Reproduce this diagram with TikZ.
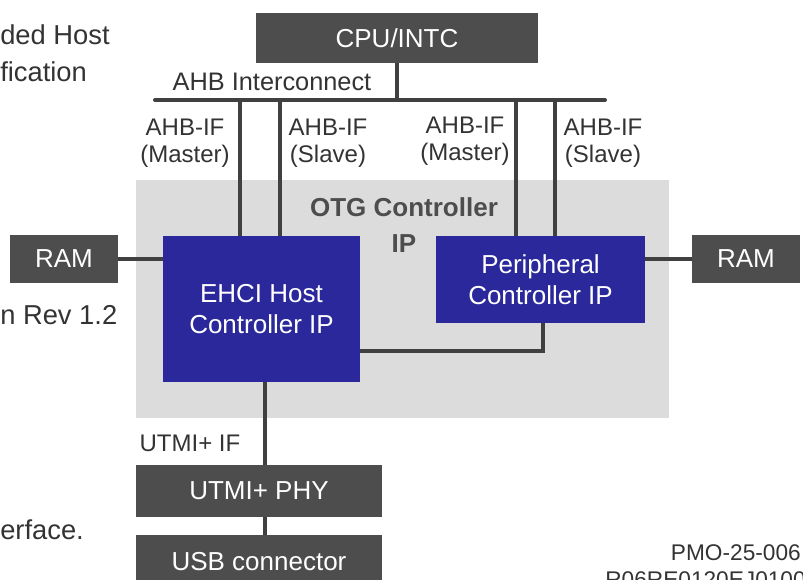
\documentclass[tikz,border=0pt]{standalone}
\usepackage{fontspec}
\setmainfont{Liberation Sans}
\usepackage{tikz}

\definecolor{boxgray}{RGB}{77,77,77}
\definecolor{linegray}{RGB}{64,64,64}
\definecolor{otggray}{RGB}{220,220,220}
\definecolor{ipblue}{RGB}{42,40,154}
\definecolor{textgray}{RGB}{51,51,51}

\begin{document}
\begin{tikzpicture}[x=0.75pt, y=-0.75pt,
    graybox/.style={fill=boxgray, text=white, inner sep=0pt,
        font=\fontsize{19.5}{22}\selectfont},
    ipbox/.style={fill=ipblue, text=white, inner sep=0pt, align=center,
        font=\fontsize{19.5}{23.5}\selectfont},
    iflabel/.style={text=textgray, align=center, inner sep=0pt,
        font=\fontsize{18}{20.25}\selectfont},
    sidetext/.style={text=textgray, anchor=west, inner sep=0pt,
        font=\fontsize{20.5}{24}\selectfont},
    wire/.style={draw=linegray, line width=3pt}]
            \useasboundingbox (0,0) rectangle (803,579);
            \clip (0,0) rectangle (803,579);
            \fill[white] (0,0) rectangle (803,579);

            % text cut off at the left and bottom edges
            \node[sidetext] (t1) at (0,35) {ded Host};
            \node[sidetext] (t2) at (0,72) {fication};
            \node[sidetext] (t3) at (0,315) {n Rev 1.2};
            \node[sidetext] (t4) at (0,530) {erface.};
            \node[sidetext, anchor=east, font=\fontsize{17}{20}\selectfont] (pmo) at (801,553) {PMO-25-006};
            \node[sidetext, anchor=east, font=\fontsize{17}{20}\selectfont] (rno) at (806,580) {R06RE0120EJ0100};

            % OTG controller area
            \fill[otggray] (136,180) rectangle (669,418);
            \node[text=boxgray, align=center, inner sep=0pt,
                font=\fontsize{19.5}{27}\selectfont\bfseries] (otg) at (404,225) {OTG Controller\\IP};

            \node[graybox, minimum width=211.5pt, minimum height=37.5pt] (cpu) at (397,38) {CPU/INTC};
            \node[graybox, minimum width=81pt, minimum height=36pt] (ramL) at (64,259) {RAM};
            \node[graybox, minimum width=81pt, minimum height=36pt] (ramR) at (746,259) {RAM};
            \node[ipbox, minimum width=147.75pt, minimum height=109.5pt] (ehci) at (261.5,309) {EHCI Host\\Controller IP};
            \node[ipbox, minimum width=156.75pt, minimum height=65.25pt] (periph) at (540.5,279.5) {Peripheral\\Controller IP};
            \node[graybox, minimum width=184.5pt, minimum height=39pt] (phy) at (259,491) {UTMI+ PHY};
            \node[graybox, minimum width=184.5pt, minimum height=40.5pt] (usb) at (259,562) {USB connector};

            % AHB bus
            \coordinate (busL) at (155,100);
            \coordinate (busR) at (605,100);
            \draw[wire, line cap=round] (busL) -- (busR);
            \node[iflabel, font=\fontsize{19}{22}\selectfont] (ahb) at (272,82) {AHB Interconnect};

            \coordinate (hm) at (240,100);
            \coordinate (hs) at (280,100);
            \coordinate (pm) at (516,100);
            \coordinate (ps) at (555,100);
            \draw[wire] (cpu.south) -- (cpu.south |- busL);
            \draw[wire] (hm) -- (hm |- ehci.north);
            \draw[wire] (hs) -- (hs |- ehci.north);
            \draw[wire] (pm) -- (pm |- periph.north);
            \draw[wire] (ps) -- (ps |- periph.north);

            \node[iflabel] (ifhm) at (185,143) {AHB-IF\\(Master)};
            \node[iflabel] (ifhs) at (328,143) {AHB-IF\\(Slave)};
            \node[iflabel] (ifpm) at (465,141) {AHB-IF\\(Master)};
            \node[iflabel] (ifps) at (603,143) {AHB-IF\\(Slave)};

            \draw[wire] (ramL.east) -- (ehci.west |- ramL.east);
            \draw[wire] (periph.east |- ramR.west) -- (ramR.west);

            \coordinate (link) at (543,351);
            \draw[wire] (ehci.east |- link) -- (link) -- (link |- periph.south);

            \coordinate (utmi) at (265,400);
            \draw[wire] (utmi |- ehci.south) -- (utmi |- phy.north);
            \draw[wire] (utmi |- phy.south) -- (utmi |- usb.north);
            \node[iflabel] (utmiif) at (190,443) {UTMI+ IF};
        \end{tikzpicture}
\end{document}
